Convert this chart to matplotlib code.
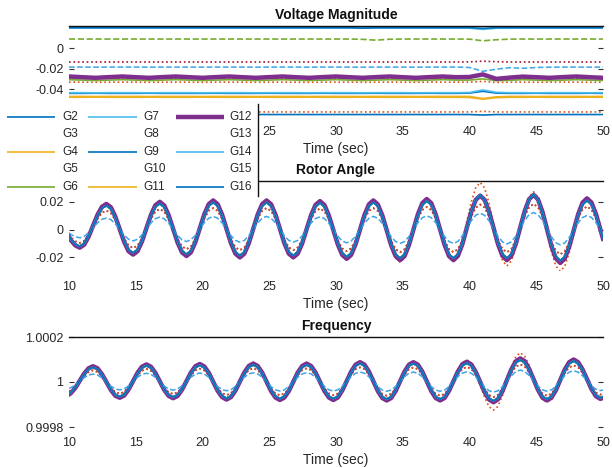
import numpy as np
import matplotlib
matplotlib.use("Agg")
import matplotlib.pyplot as plt
from matplotlib.lines import Line2D
from matplotlib.patches import Rectangle

plt.rcParams['font.family'] = ['Liberation Sans', 'DejaVu Sans']
plt.rcParams['axes.unicode_minus'] = False

# ---------------------------------------------------------------- generators
gen_names = ['G2', 'G3', 'G4', 'G5', 'G6', 'G7', 'G8', 'G9', 'G10',
             'G11', 'G12', 'G13', 'G14', 'G15', 'G16']
gen_colors = ['#0072BD', '#D95319', '#EDB120', '#7E2F8E', '#77AC30',
              '#4DBEEE', '#A2142F', '#0072BD', '#D95319', '#EDB120',
              '#7E2F8E', '#77AC30', '#4DBEEE', '#3DA5E5', '#0072BD']
gen_styles = ['-', ':', '-', ':', '-', '-', ':', '-', ':', '-',
              '-', '--', '-', '--', '-']
gen_widths = [1.2, 1.2, 1.2, 1.2, 1.2, 1.2, 1.2, 1.2, 1.2, 1.2,
              3.2, 1.2, 1.2, 1.1, 1.2]

# ---------------------------------------------------------------- time bases (s)
time_volt = np.arange(10.0, 50.5, 1.0)
time_osc = np.concatenate(([10.0], 10.8 + (np.arange(120) - 2) / 3.0, [50.0]))

# ---------------------------------------------------------------- voltage magnitude deviation
volt_g2 = [-0.0438, -0.0438, -0.0437, -0.0438, -0.0438, -0.0438, -0.0437, -0.0438, -0.0438, -0.0438,
           -0.0438, -0.0437, -0.0438, -0.0438, -0.0438, -0.0437, -0.0438, -0.0438, -0.0438, -0.0437,
           -0.0438, -0.0438, -0.0438, -0.0437, -0.0438, -0.0438, -0.0438, -0.0437, -0.0438, -0.0438,
           -0.0436, -0.0418, -0.0436, -0.0438, -0.0438, -0.0437, -0.0438, -0.0438, -0.0438, -0.0437, -0.0438]
volt_g3 = [-0.0330, -0.0330, -0.0331, -0.0330, -0.0330, -0.0330, -0.0331, -0.0330, -0.0330, -0.0330,
           -0.0331, -0.0330, -0.0330, -0.0330, -0.0331, -0.0330, -0.0330, -0.0330, -0.0331, -0.0330,
           -0.0330, -0.0330, -0.0331, -0.0330, -0.0330, -0.0330, -0.0331, -0.0330, -0.0330, -0.0330,
           -0.0330, -0.0322, -0.0333, -0.0330, -0.0330, -0.0331, -0.0330, -0.0330, -0.0330, -0.0331, -0.0330]
volt_g4 = [-0.0468, -0.0468, -0.0469, -0.0468, -0.0468, -0.0468, -0.0469, -0.0468, -0.0468, -0.0468,
           -0.0469, -0.0468, -0.0468, -0.0468, -0.0469, -0.0468, -0.0468, -0.0468, -0.0469, -0.0468,
           -0.0468, -0.0468, -0.0469, -0.0468, -0.0468, -0.0468, -0.0469, -0.0468, -0.0468, -0.0468,
           -0.0468, -0.0488, -0.0472, -0.0468, -0.0468, -0.0469, -0.0468, -0.0468, -0.0468, -0.0469, -0.0468]
volt_g5 = [-0.0292, -0.0288, -0.0284, -0.0288, -0.0292, -0.0288, -0.0284, -0.0288, -0.0292, -0.0288,
           -0.0284, -0.0288, -0.0292, -0.0288, -0.0284, -0.0288, -0.0292, -0.0288, -0.0284, -0.0288,
           -0.0292, -0.0288, -0.0284, -0.0288, -0.0292, -0.0288, -0.0284, -0.0288, -0.0292, -0.0288,
           -0.0286, -0.0270, -0.0300, -0.0290, -0.0292, -0.0288, -0.0284, -0.0288, -0.0292, -0.0288, -0.0284]
volt_g6 = [-0.0306, -0.0310, -0.0314, -0.0310, -0.0306, -0.0310, -0.0314, -0.0310, -0.0306, -0.0310,
           -0.0314, -0.0310, -0.0306, -0.0310, -0.0314, -0.0310, -0.0306, -0.0310, -0.0314, -0.0310,
           -0.0306, -0.0310, -0.0314, -0.0310, -0.0306, -0.0310, -0.0314, -0.0310, -0.0306, -0.0310,
           -0.0310, -0.0298, -0.0316, -0.0312, -0.0306, -0.0310, -0.0314, -0.0310, -0.0306, -0.0310, -0.0314]
volt_g7 = [0.0192, 0.0192, 0.0192, 0.0192, 0.0192, 0.0192, 0.0192, 0.0192, 0.0192, 0.0192,
           0.0192, 0.0192, 0.0192, 0.0192, 0.0192, 0.0192, 0.0192, 0.0192, 0.0192, 0.0192,
           0.0192, 0.0192, 0.0192, 0.0192, 0.0192, 0.0192, 0.0192, 0.0192, 0.0192, 0.0192,
           0.0192, 0.0180, 0.0191, 0.0192, 0.0192, 0.0192, 0.0192, 0.0192, 0.0192, 0.0192, 0.0192]
volt_g8 = [-0.0135, -0.0135, -0.0135, -0.0135, -0.0135, -0.0135, -0.0135, -0.0135, -0.0135, -0.0135,
           -0.0135, -0.0135, -0.0135, -0.0135, -0.0135, -0.0135, -0.0135, -0.0135, -0.0135, -0.0135,
           -0.0135, -0.0135, -0.0135, -0.0135, -0.0135, -0.0135, -0.0135, -0.0135, -0.0135, -0.0135,
           -0.0134, -0.0127, -0.0132, -0.0135, -0.0135, -0.0135, -0.0135, -0.0135, -0.0135, -0.0135, -0.0135]
volt_g9 = [-0.0643, -0.0643, -0.0643, -0.0643, -0.0643, -0.0643, -0.0643, -0.0643, -0.0643, -0.0643,
           -0.0643, -0.0643, -0.0643, -0.0643, -0.0643, -0.0643, -0.0643, -0.0643, -0.0643, -0.0643,
           -0.0643, -0.0643, -0.0643, -0.0643, -0.0643, -0.0643, -0.0643, -0.0643, -0.0643, -0.0643,
           -0.0643, -0.0648, -0.0643, -0.0643, -0.0643, -0.0643, -0.0643, -0.0643, -0.0643, -0.0643, -0.0643]
volt_g10 = [-0.0618, -0.0618, -0.0618, -0.0618, -0.0618, -0.0618, -0.0618, -0.0618, -0.0618, -0.0618,
            -0.0618, -0.0618, -0.0618, -0.0618, -0.0618, -0.0618, -0.0618, -0.0618, -0.0618, -0.0618,
            -0.0618, -0.0618, -0.0618, -0.0618, -0.0618, -0.0618, -0.0618, -0.0618, -0.0618, -0.0618,
            -0.0618, -0.0612, -0.0618, -0.0618, -0.0618, -0.0618, -0.0618, -0.0618, -0.0618, -0.0618, -0.0618]
volt_g11 = [-0.0476, -0.0476, -0.0475, -0.0476, -0.0476, -0.0476, -0.0475, -0.0476, -0.0476, -0.0476,
            -0.0475, -0.0476, -0.0476, -0.0476, -0.0475, -0.0476, -0.0476, -0.0476, -0.0475, -0.0476,
            -0.0476, -0.0476, -0.0475, -0.0476, -0.0476, -0.0476, -0.0475, -0.0476, -0.0476, -0.0476,
            -0.0478, -0.0495, -0.0480, -0.0476, -0.0476, -0.0475, -0.0476, -0.0476, -0.0476, -0.0475, -0.0476]
volt_g12 = [-0.0275, -0.0282, -0.0288, -0.0281, -0.0275, -0.0282, -0.0288, -0.0281, -0.0275, -0.0282,
            -0.0288, -0.0281, -0.0275, -0.0282, -0.0288, -0.0281, -0.0275, -0.0282, -0.0288, -0.0281,
            -0.0275, -0.0282, -0.0288, -0.0281, -0.0275, -0.0282, -0.0288, -0.0281, -0.0275, -0.0282,
            -0.0280, -0.0255, -0.0298, -0.0286, -0.0276, -0.0282, -0.0288, -0.0281, -0.0275, -0.0282, -0.0288]
volt_g13 = [0.0087, 0.0087, 0.0087, 0.0087, 0.0087, 0.0087, 0.0087, 0.0087, 0.0087, 0.0087,
            0.0087, 0.0087, 0.0087, 0.0087, 0.0087, 0.0087, 0.0087, 0.0087, 0.0087, 0.0087,
            0.0087, 0.0087, 0.0084, 0.0076, 0.0085, 0.0087, 0.0087, 0.0087, 0.0087, 0.0087,
            0.0086, 0.0070, 0.0080, 0.0086, 0.0087, 0.0087, 0.0087, 0.0087, 0.0087, 0.0087, 0.0087]
volt_g14 = [-0.0432, -0.0432, -0.0433, -0.0432, -0.0432, -0.0432, -0.0433, -0.0432, -0.0432, -0.0432,
            -0.0433, -0.0432, -0.0432, -0.0432, -0.0433, -0.0432, -0.0432, -0.0432, -0.0433, -0.0432,
            -0.0432, -0.0432, -0.0433, -0.0432, -0.0432, -0.0432, -0.0433, -0.0432, -0.0432, -0.0432,
            -0.0430, -0.0405, -0.0428, -0.0432, -0.0432, -0.0433, -0.0432, -0.0432, -0.0432, -0.0433, -0.0432]
volt_g15 = [-0.0184, -0.0184, -0.0185, -0.0184, -0.0184, -0.0184, -0.0185, -0.0184, -0.0184, -0.0184,
            -0.0185, -0.0184, -0.0184, -0.0184, -0.0185, -0.0184, -0.0184, -0.0184, -0.0185, -0.0184,
            -0.0184, -0.0184, -0.0185, -0.0184, -0.0184, -0.0184, -0.0185, -0.0184, -0.0184, -0.0184,
            -0.0188, -0.0225, -0.0205, -0.0190, -0.0196, -0.0188, -0.0185, -0.0184, -0.0184, -0.0185, -0.0184]
volt_g16 = [0.0197, 0.0197, 0.0197, 0.0197, 0.0197, 0.0197, 0.0197, 0.0197, 0.0197, 0.0197,
            0.0197, 0.0197, 0.0197, 0.0197, 0.0197, 0.0197, 0.0197, 0.0197, 0.0197, 0.0197,
            0.0197, 0.0197, 0.0192, 0.0197, 0.0197, 0.0197, 0.0197, 0.0197, 0.0197, 0.0197,
            0.0197, 0.0190, 0.0197, 0.0197, 0.0197, 0.0197, 0.0197, 0.0197, 0.0197, 0.0197, 0.0197]

# ---------------------------------------------------------------- rotor angle (rad)
rotor_band = [-0.0050, -0.0075, -0.0113, -0.0130,
              -0.0109, -0.0051, 0.0028, 0.0106, 0.0164, 0.0185,
              0.0161, 0.0094, 0.0003, -0.0089, -0.0156, -0.0180,
              -0.0155, -0.0085, 0.0010, 0.0105, 0.0175, 0.0200,
              0.0174, 0.0103, 0.0005, -0.0093, -0.0164, -0.0190,
              -0.0163, -0.0090, 0.0010, 0.0110, 0.0183, 0.0210,
              0.0183, 0.0108, 0.0005, -0.0098, -0.0173, -0.0200,
              -0.0173, -0.0098, 0.0005, 0.0108, 0.0183, 0.0210,
              0.0183, 0.0108, 0.0005, -0.0098, -0.0173, -0.0200,
              -0.0173, -0.0099, 0.0003, 0.0104, 0.0178, 0.0205,
              0.0177, 0.0101, -0.0003, -0.0106, -0.0182, -0.0210,
              -0.0182, -0.0105, 0.0000, 0.0105, 0.0182, 0.0210,
              0.0181, 0.0103, -0.0005, -0.0113, -0.0191, -0.0220,
              -0.0191, -0.0110, 0.0000, 0.0110, 0.0191, 0.0220,
              0.0191, 0.0110, 0.0000, -0.0110, -0.0191, -0.0220,
              -0.0189, -0.0104, 0.0013, 0.0129, 0.0214, 0.0245,
              0.0214, 0.0129, 0.0013, -0.0104, -0.0189, -0.0220,
              -0.0189, -0.0103, 0.0015, 0.0133, 0.0219, 0.0250,
              0.0217, 0.0128, 0.0005, -0.0118, -0.0207, -0.0240,
              -0.0209, -0.0124, -0.0008, 0.0109, 0.0194, 0.0225,
              0.0195, 0.0114, 0.0003, -0.0066]
rotor_b = [-0.0047, -0.0070, -0.0105, -0.0121,
           -0.0101, -0.0047, 0.0026, 0.0099, 0.0153, 0.0172,
           0.0150, 0.0087, 0.0003, -0.0083, -0.0145, -0.0167,
           -0.0144, -0.0079, 0.0009, 0.0098, 0.0163, 0.0186,
           0.0162, 0.0096, 0.0005, -0.0086, -0.0153, -0.0177,
           -0.0152, -0.0084, 0.0009, 0.0102, 0.0170, 0.0195,
           0.0170, 0.0100, 0.0005, -0.0091, -0.0161, -0.0186,
           -0.0161, -0.0091, 0.0005, 0.0100, 0.0170, 0.0195,
           0.0170, 0.0100, 0.0005, -0.0091, -0.0161, -0.0186,
           -0.0161, -0.0092, 0.0003, 0.0097, 0.0166, 0.0191,
           0.0165, 0.0094, -0.0003, -0.0099, -0.0169, -0.0195,
           -0.0169, -0.0098, 0.0000, 0.0098, 0.0169, 0.0195,
           0.0168, 0.0096, -0.0005, -0.0105, -0.0178, -0.0205,
           -0.0178, -0.0102, 0.0000, 0.0102, 0.0178, 0.0205,
           0.0178, 0.0102, 0.0000, -0.0102, -0.0178, -0.0205,
           -0.0176, -0.0097, 0.0013, 0.0128, 0.0215, 0.0250,
           0.0213, 0.0125, 0.0012, -0.0097, -0.0176, -0.0205,
           -0.0176, -0.0096, 0.0014, 0.0130, 0.0218, 0.0255,
           0.0212, 0.0122, 0.0005, -0.0110, -0.0193, -0.0223,
           -0.0194, -0.0115, -0.0007, 0.0101, 0.0180, 0.0209,
           0.0181, 0.0106, 0.0003, -0.0061]
rotor_mid = [-0.0037, -0.0056, -0.0084, -0.0096,
             -0.0081, -0.0038, 0.0021, 0.0078, 0.0121, 0.0137,
             0.0119, 0.0070, 0.0002, -0.0066, -0.0115, -0.0133,
             -0.0115, -0.0063, 0.0007, 0.0078, 0.0130, 0.0148,
             0.0129, 0.0076, 0.0004, -0.0069, -0.0121, -0.0141,
             -0.0121, -0.0067, 0.0007, 0.0081, 0.0135, 0.0155,
             0.0135, 0.0080, 0.0004, -0.0073, -0.0128, -0.0148,
             -0.0128, -0.0073, 0.0004, 0.0080, 0.0135, 0.0155,
             0.0135, 0.0080, 0.0004, -0.0073, -0.0128, -0.0148,
             -0.0128, -0.0073, 0.0002, 0.0077, 0.0132, 0.0152,
             0.0131, 0.0075, -0.0002, -0.0078, -0.0135, -0.0155,
             -0.0135, -0.0078, 0.0000, 0.0078, 0.0135, 0.0155,
             0.0134, 0.0076, -0.0004, -0.0084, -0.0141, -0.0163,
             -0.0141, -0.0081, 0.0000, 0.0081, 0.0141, 0.0163,
             0.0141, 0.0081, 0.0000, -0.0081, -0.0141, -0.0163,
             -0.0140, -0.0077, 0.0010, 0.0095, 0.0158, 0.0181,
             0.0158, 0.0095, 0.0010, -0.0077, -0.0140, -0.0163,
             -0.0140, -0.0076, 0.0011, 0.0098, 0.0162, 0.0185,
             0.0161, 0.0095, 0.0004, -0.0087, -0.0153, -0.0178,
             -0.0155, -0.0092, -0.0006, 0.0081, 0.0144, 0.0167,
             0.0144, 0.0084, 0.0002, -0.0049]
rotor_small = [-0.0023, -0.0034, -0.0051, -0.0059,
               -0.0049, -0.0023, 0.0013, 0.0048, 0.0074, 0.0083,
               0.0072, 0.0042, 0.0001, -0.0040, -0.0070, -0.0081,
               -0.0070, -0.0038, 0.0005, 0.0047, 0.0079, 0.0090,
               0.0078, 0.0046, 0.0002, -0.0042, -0.0074, -0.0086,
               -0.0073, -0.0041, 0.0005, 0.0050, 0.0082, 0.0095,
               0.0082, 0.0049, 0.0002, -0.0044, -0.0078, -0.0090,
               -0.0078, -0.0044, 0.0002, 0.0049, 0.0082, 0.0095,
               0.0082, 0.0049, 0.0002, -0.0044, -0.0078, -0.0090,
               -0.0078, -0.0045, 0.0001, 0.0047, 0.0080, 0.0092,
               0.0080, 0.0045, -0.0001, -0.0048, -0.0082, -0.0095,
               -0.0082, -0.0047, 0.0000, 0.0047, 0.0082, 0.0095,
               0.0082, 0.0046, -0.0002, -0.0051, -0.0086, -0.0099,
               -0.0086, -0.0050, 0.0000, 0.0050, 0.0086, 0.0099,
               0.0086, 0.0050, 0.0000, -0.0050, -0.0086, -0.0099,
               -0.0085, -0.0045, 0.0010, 0.0064, 0.0104, 0.0118,
               0.0103, 0.0063, 0.0008, -0.0048, -0.0088, -0.0103,
               -0.0088, -0.0047, 0.0010, 0.0067, 0.0108, 0.0123,
               0.0107, 0.0065, 0.0007, -0.0052, -0.0094, -0.0110,
               -0.0096, -0.0057, -0.0005, 0.0048, 0.0087, 0.0101,
               0.0088, 0.0051, 0.0001, -0.0030]
rotor_spike = [-0.0051, -0.0077, -0.0115, -0.0133,
               -0.0111, -0.0052, 0.0029, 0.0108, 0.0167, 0.0189,
               0.0164, 0.0096, 0.0003, -0.0091, -0.0159, -0.0184,
               -0.0158, -0.0087, 0.0010, 0.0107, 0.0179, 0.0204,
               0.0177, 0.0105, 0.0005, -0.0095, -0.0167, -0.0194,
               -0.0166, -0.0092, 0.0010, 0.0112, 0.0187, 0.0214,
               0.0187, 0.0110, 0.0005, -0.0100, -0.0176, -0.0204,
               -0.0176, -0.0100, 0.0005, 0.0110, 0.0187, 0.0214,
               0.0187, 0.0110, 0.0005, -0.0100, -0.0176, -0.0204,
               -0.0176, -0.0101, 0.0003, 0.0106, 0.0182, 0.0209,
               0.0181, 0.0103, -0.0003, -0.0108, -0.0186, -0.0214,
               -0.0186, -0.0107, 0.0000, 0.0107, 0.0186, 0.0214,
               0.0184, 0.0102, -0.0011, -0.0123, -0.0205, -0.0235,
               -0.0204, -0.0121, -0.0006, 0.0109, 0.0192, 0.0223,
               0.0193, 0.0112, 0.0000, -0.0112, -0.0193, -0.0223,
               -0.0185, -0.0082, 0.0059, 0.0199, 0.0302, 0.0340,
               0.0300, 0.0190, 0.0039, -0.0112, -0.0222, -0.0262,
               -0.0226, -0.0129, 0.0005, 0.0139, 0.0236, 0.0272,
               0.0234, 0.0129, -0.0014, -0.0157, -0.0262, -0.0300,
               -0.0264, -0.0167, -0.0034, 0.0099, 0.0196, 0.0232,
               0.0201, 0.0118, 0.0004, -0.0067]

# ---------------------------------------------------------------- frequency (pu)
freq_band = [0.999945, 0.999950, 0.999973, 1.000005, 1.000037, 1.000061, 1.000070,
             1.000061, 1.000035, 1.000000, 0.999965, 0.999939, 0.999930,
             0.999940, 0.999967, 1.000004, 1.000041, 1.000068, 1.000078,
             1.000068, 1.000041, 1.000003, 0.999965, 0.999938, 0.999928,
             0.999938, 0.999966, 1.000004, 1.000042, 1.000070, 1.000080,
             1.000069, 1.000041, 1.000001, 0.999961, 0.999933, 0.999922,
             0.999933, 0.999962, 1.000002, 1.000042, 1.000071, 1.000082,
             1.000071, 1.000042, 1.000001, 0.999960, 0.999931, 0.999920,
             0.999931, 0.999960, 1.000001, 1.000042, 1.000071, 1.000082,
             1.000071, 1.000042, 1.000001, 0.999960, 0.999931, 0.999920,
             0.999931, 0.999962, 1.000004, 1.000046, 1.000077, 1.000088,
             1.000077, 1.000046, 1.000003, 0.999960, 0.999929, 0.999918,
             0.999929, 0.999960, 1.000003, 1.000046, 1.000077, 1.000088,
             1.000077, 1.000046, 1.000003, 0.999960, 0.999929, 0.999918,
             0.999929, 0.999961, 1.000004, 1.000047, 1.000079, 1.000090,
             1.000078, 1.000045, 1.000000, 0.999955, 0.999922, 0.999910,
             0.999923, 0.999959, 1.000008, 1.000056, 1.000092, 1.000105,
             1.000093, 1.000058, 1.000012, 0.999965, 0.999930, 0.999918,
             0.999930, 0.999963, 1.000009, 1.000055, 1.000088, 1.000100,
             1.000088, 1.000056, 1.000013, 0.999969, 0.999937, 0.999925,
             0.999929]
freq_b = [0.999949, 0.999953, 0.999975, 1.000005, 1.000034, 1.000057, 1.000065,
          1.000057, 1.000033, 1.000000, 0.999967, 0.999943, 0.999935,
          0.999944, 0.999969, 1.000004, 1.000038, 1.000063, 1.000073,
          1.000063, 1.000038, 1.000003, 0.999967, 0.999942, 0.999933,
          0.999942, 0.999968, 1.000004, 1.000039, 1.000065, 1.000074,
          1.000064, 1.000038, 1.000001, 0.999964, 0.999938, 0.999927,
          0.999938, 0.999965, 1.000002, 1.000039, 1.000066, 1.000076,
          1.000066, 1.000039, 1.000001, 0.999963, 0.999936, 0.999926,
          0.999936, 0.999963, 1.000001, 1.000039, 1.000066, 1.000076,
          1.000066, 1.000039, 1.000001, 0.999963, 0.999936, 0.999926,
          0.999936, 0.999965, 1.000004, 1.000043, 1.000072, 1.000082,
          1.000072, 1.000043, 1.000003, 0.999963, 0.999934, 0.999924,
          0.999934, 0.999963, 1.000003, 1.000043, 1.000072, 1.000082,
          1.000072, 1.000043, 1.000003, 0.999963, 0.999934, 0.999924,
          0.999934, 0.999964, 1.000004, 1.000044, 1.000073, 1.000084,
          1.000073, 1.000042, 1.000000, 0.999958, 0.999927, 0.999916,
          0.999928, 0.999962, 1.000007, 1.000052, 1.000086, 1.000098,
          1.000086, 1.000054, 1.000011, 0.999967, 0.999935, 0.999924,
          0.999935, 0.999966, 1.000008, 1.000051, 1.000082, 1.000093,
          1.000082, 1.000052, 1.000012, 0.999971, 0.999941, 0.999930,
          0.999934]
freq_mid = [0.999959, 0.999963, 0.999980, 1.000004, 1.000027, 1.000045, 1.000052,
            1.000045, 1.000026, 1.000000, 0.999974, 0.999955, 0.999948,
            0.999956, 0.999976, 1.000003, 1.000030, 1.000050, 1.000058,
            1.000050, 1.000030, 1.000002, 0.999974, 0.999954, 0.999947,
            0.999954, 0.999975, 1.000003, 1.000031, 1.000052, 1.000059,
            1.000051, 1.000030, 1.000001, 0.999971, 0.999950, 0.999942,
            0.999950, 0.999972, 1.000001, 1.000031, 1.000053, 1.000061,
            1.000053, 1.000031, 1.000001, 0.999970, 0.999949, 0.999941,
            0.999949, 0.999970, 1.000001, 1.000031, 1.000053, 1.000061,
            1.000053, 1.000031, 1.000001, 0.999970, 0.999949, 0.999941,
            0.999949, 0.999972, 1.000003, 1.000034, 1.000057, 1.000065,
            1.000057, 1.000034, 1.000002, 0.999970, 0.999947, 0.999939,
            0.999947, 0.999970, 1.000002, 1.000034, 1.000057, 1.000065,
            1.000057, 1.000034, 1.000002, 0.999970, 0.999947, 0.999939,
            0.999947, 0.999971, 1.000003, 1.000035, 1.000058, 1.000067,
            1.000058, 1.000033, 1.000000, 0.999967, 0.999942, 0.999933,
            0.999943, 0.999970, 1.000006, 1.000041, 1.000068, 1.000078,
            1.000069, 1.000043, 1.000009, 0.999974, 0.999948, 0.999939,
            0.999948, 0.999973, 1.000007, 1.000041, 1.000065, 1.000074,
            1.000065, 1.000041, 1.000010, 0.999977, 0.999953, 0.999944,
            0.999947]
freq_small = [0.999972, 0.999975, 0.999986, 1.000003, 1.000019, 1.000031, 1.000035,
              1.000031, 1.000018, 1.000000, 0.999982, 0.999969, 0.999965,
              0.999970, 0.999983, 1.000002, 1.000021, 1.000034, 1.000039,
              1.000034, 1.000021, 1.000002, 0.999982, 0.999969, 0.999964,
              0.999969, 0.999983, 1.000002, 1.000021, 1.000035, 1.000040,
              1.000035, 1.000021, 1.000001, 0.999980, 0.999966, 0.999961,
              0.999966, 0.999981, 1.000001, 1.000021, 1.000036, 1.000041,
              1.000036, 1.000021, 1.000001, 0.999980, 0.999965, 0.999960,
              0.999965, 0.999980, 1.000001, 1.000021, 1.000036, 1.000041,
              1.000036, 1.000021, 1.000001, 0.999980, 0.999965, 0.999960,
              0.999965, 0.999981, 1.000002, 1.000023, 1.000039, 1.000044,
              1.000039, 1.000023, 1.000002, 0.999980, 0.999964, 0.999959,
              0.999964, 0.999980, 1.000002, 1.000023, 1.000039, 1.000044,
              1.000039, 1.000023, 1.000002, 0.999980, 0.999964, 0.999959,
              0.999964, 0.999980, 1.000002, 1.000024, 1.000040, 1.000045,
              1.000039, 1.000023, 1.000000, 0.999977, 0.999961, 0.999955,
              0.999961, 0.999979, 1.000004, 1.000028, 1.000046, 1.000053,
              1.000047, 1.000029, 1.000006, 0.999982, 0.999965, 0.999959,
              0.999965, 0.999981, 1.000005, 1.000028, 1.000044, 1.000050,
              1.000044, 1.000028, 1.000007, 0.999984, 0.999968, 0.999962,
              0.999964]
freq_spike = [0.999943, 0.999948, 0.999972, 1.000005, 1.000038, 1.000063, 1.000072,
              1.000063, 1.000036, 1.000000, 0.999964, 0.999937, 0.999928,
              0.999938, 0.999966, 1.000004, 1.000042, 1.000070, 1.000080,
              1.000070, 1.000042, 1.000003, 0.999964, 0.999936, 0.999926,
              0.999936, 0.999965, 1.000004, 1.000043, 1.000072, 1.000082,
              1.000071, 1.000042, 1.000001, 0.999960, 0.999931, 0.999920,
              0.999931, 0.999961, 1.000002, 1.000043, 1.000073, 1.000084,
              1.000073, 1.000043, 1.000001, 0.999959, 0.999929, 0.999918,
              0.999929, 0.999959, 1.000001, 1.000043, 1.000073, 1.000084,
              1.000073, 1.000043, 1.000001, 0.999959, 0.999929, 0.999918,
              0.999929, 0.999961, 1.000004, 1.000047, 1.000079, 1.000091,
              1.000079, 1.000047, 1.000003, 0.999959, 0.999927, 0.999916,
              0.999927, 0.999959, 1.000003, 1.000047, 1.000079, 1.000091,
              1.000079, 1.000047, 1.000003, 0.999959, 0.999927, 0.999916,
              0.999928, 0.999961, 1.000007, 1.000053, 1.000086, 1.000098,
              1.000083, 1.000042, 0.999986, 0.999931, 0.999890, 0.999875,
              0.999892, 0.999939, 1.000003, 1.000066, 1.000113, 1.000130,
              1.000115, 1.000075, 1.000020, 0.999965, 0.999925, 0.999910,
              0.999923, 0.999958, 1.000007, 1.000055, 1.000090, 1.000103,
              1.000091, 1.000058, 1.000013, 0.999967, 0.999934, 0.999922,
              0.999926]

# record traced by each generator (G2 ... G16) in the three panels
volt_series = [volt_g2, volt_g3, volt_g4, volt_g5, volt_g6, volt_g7, volt_g8, volt_g9,
               volt_g10, volt_g11, volt_g12, volt_g13, volt_g14, volt_g15, volt_g16]
rotor_series = [rotor_b, rotor_spike, rotor_b, rotor_band, rotor_b, rotor_b, rotor_mid,
                rotor_band, rotor_mid, rotor_b, rotor_band, rotor_b, rotor_b, rotor_small,
                rotor_b]
freq_series = [freq_b, freq_spike, freq_b, freq_band, freq_b, freq_b, freq_mid,
               freq_band, freq_mid, freq_b, freq_band, freq_b, freq_b, freq_small,
               freq_b]

for s in volt_series:
    assert len(s) == len(time_volt)
for s in rotor_series + freq_series:
    assert len(s) == len(time_osc)

# ---------------------------------------------------------------- figure
W, H = 612, 468
fig = plt.figure(figsize=(W / 100, H / 100), dpi=100)
TXT = '#262626'


def rect(top_px, bottom_px, left_px=69, right_px=603):
    return [left_px / W, (H - bottom_px) / H,
            (right_px - left_px) / W, (bottom_px - top_px) / H]


def style_axes(ax, title, ylim, yticks, ylabels, xlabels):
    ax.set_xlim(10, 50)
    ax.set_ylim(*ylim)
    for side in ('left', 'right', 'bottom'):
        ax.spines[side].set_visible(False)
    ax.spines['top'].set_linewidth(1.0)
    ax.spines['top'].set_color('#111111')
    ax.set_xticks(np.arange(10, 51, 5), labels=xlabels)
    ax.set_xticks([15, 30, 45], minor=True)
    ax.tick_params(axis='x', which='major', length=0, pad=7,
                   labelsize=9, labelcolor=TXT)
    ax.tick_params(axis='x', which='minor', direction='in', length=4,
                   width=0.8, color='#333333', top=True, bottom=True)
    ax.set_yticks(yticks, labels=ylabels)
    ax.tick_params(axis='y', which='major', direction='in', length=3.5,
                   width=0.8, color='#333333', left=True, right=True,
                   pad=4, labelsize=9, labelcolor=TXT)
    ax.set_title(title, fontsize=10, fontweight='bold', color='#111111', pad=5)
    ax.set_xlabel('Time (sec)', fontsize=10, color=TXT, labelpad=3)
    ax.set_facecolor('none')


ax_v = fig.add_axes(rect(26, 116.5))
ax_r = fig.add_axes(rect(181, 271))
ax_f = fig.add_axes(rect(337, 427))

panels = [(ax_v, time_volt, volt_series), (ax_r, time_osc, rotor_series),
          (ax_f, time_osc, freq_series)]
for ax, t, series in panels:
    for y, c, ls, lw in zip(series, gen_colors, gen_styles, gen_widths):
        ax.plot(t, y, color=c, linestyle=ls, linewidth=lw)

all_x = ['10', '15', '20', '25', '30', '35', '40', '45', '50']
# the legend panel sits over the left end of the voltage axis
style_axes(ax_v, 'Voltage Magnitude', (-0.0662, 0.0213),
           [-0.06, -0.04, -0.02, 0], ['', '-0.04', '-0.02', '0'],
           ['', '', ''] + all_x[3:])
style_axes(ax_r, 'Rotor Angle', (-0.0298, 0.035),
           [-0.02, 0, 0.02], ['-0.02', '0', '0.02'], all_x)
style_axes(ax_f, 'Frequency', (0.9998, 1.0002),
           [0.9998, 1.0, 1.0002], ['0.9998', '1', '1.0002'], all_x)

# ---------------------------------------------------------------- legend panel
ax_o = fig.add_axes([0, 0, 1, 1])
ax_o.set_xlim(0, W)
ax_o.set_ylim(H, 0)
ax_o.axis('off')
ax_o.set_zorder(10)
ax_o.patch.set_alpha(0)

ax_o.add_patch(Rectangle((-2, 104), 260, 92, facecolor='white',
                         edgecolor='none'))
ax_o.add_line(Line2D([258, 258], [104, 196], color='#111111', linewidth=1.0))

col_line_x = [(7, 55), (88, 137), (176, 224)]
col_text_x = [62, 143, 229]
for i, name in enumerate(gen_names):
    col, row = divmod(i, 5)
    yy = 116.7 + 17.5 * row
    if gen_styles[i] == '-':
        x0, x1 = col_line_x[col]
        ax_o.add_line(Line2D([x0, x1], [yy, yy], color=gen_colors[i],
                             linewidth=gen_widths[i], solid_capstyle='butt'))
    ax_o.text(col_text_x[col], yy, name, fontsize=8.5, color=TXT,
              ha='left', va='center')

fig.savefig('out.png', dpi=100)
